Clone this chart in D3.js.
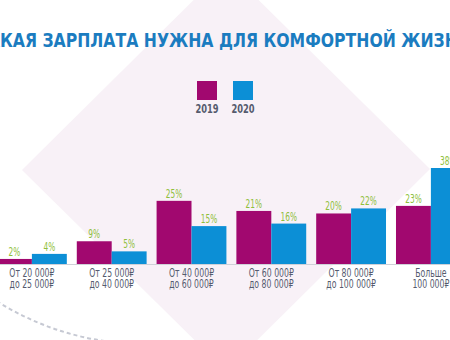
<!DOCTYPE html>
<html><head><meta charset="utf-8">
<script src="https://cdn.jsdelivr.net/npm/d3@7"></script>
<style>
html,body{margin:0;padding:0;background:#fff;overflow:hidden}
svg{display:block}
</style></head>
<body>
<svg id="c" width="450" height="340"></svg>
<script>
const title = "КАКАЯ ЗАРПЛАТА НУЖНА ДЛЯ КОМФОРТНОЙ ЖИЗНИ";
const categories = ["От 20 000₽|до 25 000₽","От 25 000₽|до 40 000₽","От 40 000₽|до 60 000₽","От 60 000₽|до 80 000₽","От 80 000₽|до 100 000₽","Больше|100 000₽"];
const seriesNames = ["2019","2020"];
const values2019 = [2, 9, 25, 21, 20, 23];
const values2020 = [4, 5, 15, 16, 22, 38];
const colors = ["#a1086f", "#0c8fd6"];

const FONT = "'DejaVu Sans Condensed','DejaVu Sans',sans-serif";
const svg = d3.select("#c");

// background diamond
svg.append("polygon")
  .attr("points", [[226,-32],[430,169],[226,371],[22,170]].map(p=>p.join(",")).join(" "))
  .attr("fill", "#f8f1f7");

// dashed arc decoration
const cx = 145, cy = 66, r = 278;
const pt = a => [cx + r*Math.cos(a*Math.PI/180), cy + r*Math.sin(a*Math.PI/180)];
const p0 = pt(128), p1 = pt(94);
svg.append("path")
  .attr("d", `M${p0[0]},${p0[1]} A${r},${r} 0 0 0 ${p1[0]},${p1[1]}`)
  .attr("fill","none").attr("stroke","#c6c9d3").attr("stroke-width",2)
  .attr("stroke-dasharray","4 3");

// title
svg.append("text")
  .attr("y", 47)
  .attr("font-family", FONT).attr("font-weight", "bold").attr("font-size", 20)
  .attr("fill", "#1b7cc0")
  .attr("textLength", 496).attr("lengthAdjust", "spacingAndGlyphs")
  .attr("x", -25)
  .text(title);

// scales
const x0 = d3.scaleBand().domain(categories).range([-8, 470.8]).paddingInner(0.125).paddingOuter(0.0625);
const x1 = d3.scaleBand().domain(seriesNames).range([0, x0.bandwidth()]);
const y = d3.scaleLinear().domain([0, 38]).range([264, 168]);

// legend
const lg = svg.append("g");
const lx = d3.scalePoint().domain(seriesNames).range([207, 243]);
seriesNames.forEach((s, i) => {
  lg.append("rect").attr("x", lx(s) - 10).attr("y", 81).attr("width", 20).attr("height", 19).attr("fill", colors[i]);
  lg.append("text").attr("transform", `translate(${lx(s)},113) scale(0.74,1)`).attr("text-anchor", "middle")
    .attr("font-family", FONT).attr("font-weight", "bold").attr("font-size", 12.5).attr("fill", "#555b6e").text(s);
});

// bars
const data = categories.map((c, i) => ({cat: c, vals: [values2019[i], values2020[i]]}));
const groups = svg.append("g").selectAll("g").data(data).join("g")
  .attr("transform", d => `translate(${x0(d.cat)},0)`);
groups.selectAll("rect").data(d => d.vals.map((v, i) => ({s: seriesNames[i], v, i}))).join("rect")
  .attr("x", d => x1(d.s)).attr("width", x1.bandwidth())
  .attr("y", d => y(d.v)).attr("height", d => y(0) - y(d.v))
  .attr("fill", d => colors[d.i]);
groups.selectAll("text").data(d => d.vals.map((v, i) => ({s: seriesNames[i], v, i}))).join("text")
  .attr("transform", d => `translate(${x1(d.s) + x1.bandwidth()/2},${y(d.v) - 3}) scale(0.72,1)`)
  .attr("text-anchor", "middle").attr("font-family", FONT).attr("font-size", 11.5)
  .attr("fill", "#8fbf3c").text(d => d.v + "%");

// axis
const ax = svg.append("g").attr("transform", `translate(0,${y(0)})`)
  .call(d3.axisBottom(x0).tickSize(0).tickPadding(0).tickFormat(() => ""));
ax.select(".domain").attr("stroke", "#cfd1d8").attr("stroke-width", 1);
ax.selectAll(".tick text").each(function(d) {
  const el = d3.select(this).attr("font-family", FONT).attr("font-size", 11.5).attr("fill", "#555b6e")
    .attr("y", 0).attr("dy", null).attr("transform", "scale(0.75,1)");
  d.split("|").forEach((line, k) => {
    el.append("tspan").attr("x", 0).attr("y", 13 + k * 11).text(line);
  });
});
</script>
</body></html>
